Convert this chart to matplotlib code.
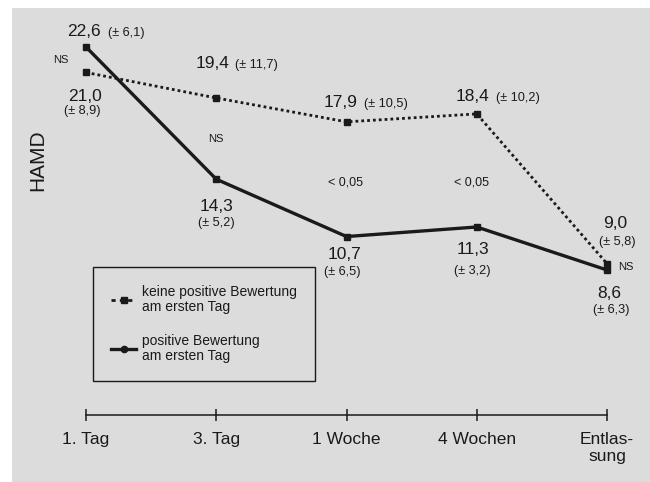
import matplotlib
matplotlib.use("Agg")
import matplotlib.pyplot as plt
from matplotlib.lines import Line2D

plt.rcParams['font.family'] = ['Liberation Sans', 'DejaVu Sans']

# ---------------- data ----------------
categories = ["1. Tag", "3. Tag", "1 Woche", "4 Wochen", "Entlas-\nsung"]
pos_values = [22.6, 14.3, 10.7, 11.3, 8.6]          # positive Bewertung am ersten Tag
pos_sd = ["6,1", "5,2", "6,5", "3,2", "6,3"]
neg_values = [21.0, 19.4, 17.9, 18.4, 9.0]          # keine positive Bewertung
neg_sd = ["8,9", "11,7", "10,5", "10,2", "5,8"]
significance = ["NS", "NS", "< 0,05", "< 0,05", "NS"]
label_neg = "keine positive Bewertung\nam ersten Tag"
label_pos = "positive Bewertung\nam ersten Tag"
ylabel = "HAMD"

def fmt(v):
    return f"{v:.1f}".replace(".", ",")

# ---------------- figure ----------------
W, H = 650, 482
fig = plt.figure(figsize=(W / 100, H / 100), dpi=100, facecolor="white")
bg = "#dcdcdc"
ax = fig.add_axes([12 / W, 0, 1 - 12 / W, 1 - 8 / H], facecolor=bg)
ink = "#1a1a1a"

x = list(range(len(categories)))
ax.plot(x, neg_values, color=ink, lw=2.0, linestyle=(0, (1, 1.1)),
        marker="s", ms=4.5, label=label_neg, solid_capstyle="butt")
ax.plot(x, pos_values, color=ink, lw=2.4, linestyle="-",
        marker="s", ms=4.5, label=label_pos)

# axis limits mapping: px = 86 + 130.25*x ; py = 407 - 15.93*v
ax.set_xlim((12 - 86) / 130.25, (650 - 86) / 130.25)
ax.set_ylim((407 - 482) / 15.93, (407 - 8) / 15.93)

for s in ["top", "right", "left"]:
    ax.spines[s].set_visible(False)
ax.spines["bottom"].set_position(("data", -0.5))
ax.spines["bottom"].set_bounds(0, len(categories) - 1)
ax.spines["bottom"].set_linewidth(1.1)
ax.spines["bottom"].set_color(ink)
ax.set_xticks(x)
ax.set_xticklabels(categories, fontsize=12.5, color=ink, linespacing=1.15)
ax.tick_params(axis="x", direction="inout", length=9, width=1.1, color=ink, pad=8)
ax.set_yticks([])

fig.text(38 / W, 1 - 160 / H, ylabel, rotation=90, fontsize=15, color=ink,
         ha="center", va="center")

big = 12.5
small = 9.2
# positive series labels (offsets in pixels)
pos_num_off = [(-1, 15), (0, -27), (-2, -18), (-4, -23), (2, -23)]
pos_sd_off = [(None), (0, -44), (-4, -35), (-4, -44), (4, -40)]
for i, (v, sd) in enumerate(zip(pos_values, pos_sd)):
    dx, dy = pos_num_off[i]
    if i == 0:
        ax.annotate(fmt(v), (i, v), xytext=(dx + 16, dy), textcoords="offset pixels",
                    ha="right", va="center", fontsize=big, color=ink)
        ax.annotate(f"(± {sd})", (i, v), xytext=(dx + 23, dy - 1), textcoords="offset pixels",
                    ha="left", va="center", fontsize=small, color=ink)
    else:
        ax.annotate(fmt(v), (i, v), xytext=(dx, dy), textcoords="offset pixels",
                    ha="center", va="center", fontsize=big, color=ink)
        sdx, sdy = pos_sd_off[i]
        ax.annotate(f"(± {sd})", (i, v), xytext=(sdx, sdy), textcoords="offset pixels",
                    ha="center", va="center", fontsize=small, color=ink)

# negative series labels
for i, (v, sd) in enumerate(zip(neg_values, neg_sd)):
    if i == 0:
        ax.annotate(fmt(v), (i, v), xytext=(-1, -24), textcoords="offset pixels",
                    ha="center", va="center", fontsize=big, color=ink)
        ax.annotate(f"(± {sd})", (i, v), xytext=(-4, -39), textcoords="offset pixels",
                    ha="center", va="center", fontsize=small, color=ink)
    elif i == len(neg_values) - 1:
        ax.annotate(fmt(v), (i, v), xytext=(8, 40), textcoords="offset pixels",
                    ha="center", va="center", fontsize=big, color=ink)
        ax.annotate(f"(± {sd})", (i, v), xytext=(10, 22), textcoords="offset pixels",
                    ha="center", va="center", fontsize=small, color=ink)
    else:
        offs = {1: (13, 34), 2: (11, 19), 3: (13, 17)}[i]
        ax.annotate(fmt(v), (i, v), xytext=(offs[0], offs[1]), textcoords="offset pixels",
                    ha="right", va="center", fontsize=big, color=ink)
        ax.annotate(f"(± {sd})", (i, v), xytext=(offs[0] + 6, offs[1] - 1),
                    textcoords="offset pixels",
                    ha="left", va="center", fontsize=small, color=ink)

# significance labels
sig_off = [(-25, 0), (0, 0), (-1, -3), (-5, -12), (19, 0)]
sig_size = [8, 8, 9, 9, 8]
for i, s in enumerate(significance):
    mid = (pos_values[i] + neg_values[i]) / 2
    ax.annotate(s, (i, mid), xytext=sig_off[i], textcoords="offset pixels",
                ha="center", va="center", fontsize=sig_size[i], color=ink)

# legend
handles = [Line2D([], [], color=ink, lw=2.0, linestyle=(0, (1.5, 1.5)), marker="s", ms=4.5),
           Line2D([], [], color=ink, lw=2.4, linestyle="-", marker="o", ms=4.5)]
leg = ax.legend(handles, [label_neg, label_pos], loc="upper left",
                bbox_to_anchor=(93 / W, 1 - 267 / H), bbox_transform=fig.transFigure,
                borderaxespad=0, fontsize=10, frameon=True, fancybox=False,
                edgecolor=ink, facecolor=bg, framealpha=1, handlelength=1.8,
                handletextpad=0.45, labelspacing=1.45, borderpad=1.3, numpoints=1)
leg.get_frame().set_linewidth(1.0)
for t in leg.get_texts():
    t.set_color(ink)
    t.set_linespacing(1.1)

fig.savefig("out.png", dpi=100, facecolor="white")
